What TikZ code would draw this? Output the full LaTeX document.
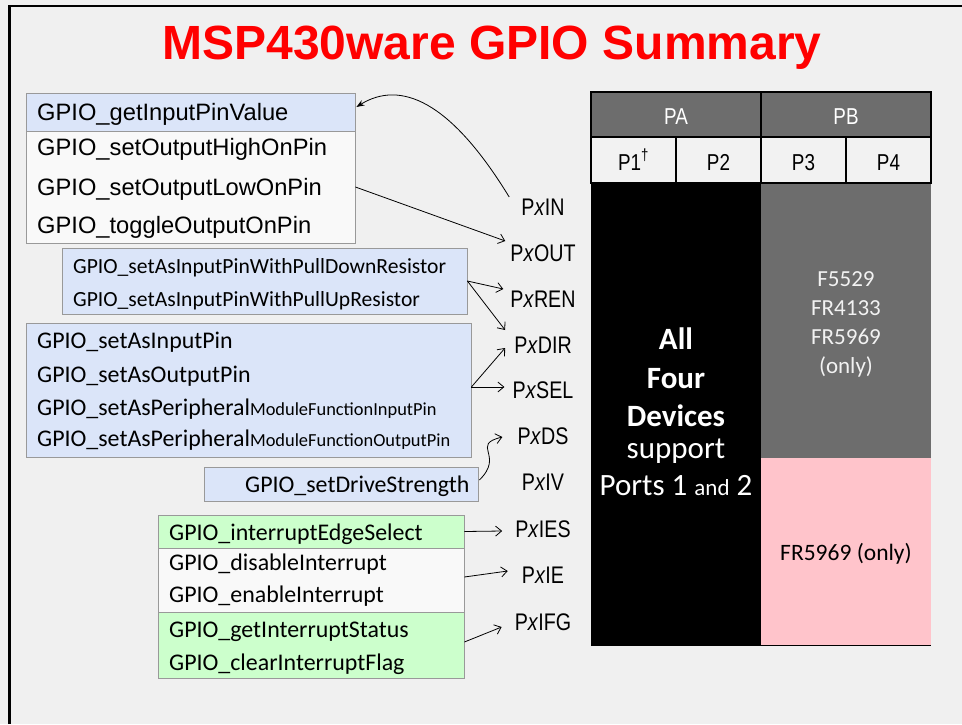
\documentclass[tikz,border=0pt]{standalone}
\usepackage{fontspec}
\setmainfont{Carlito}
\newfontfamily\arialf{Liberation Sans}
\newfontfamily\narrowf[FakeStretch=0.82]{Liberation Sans}
\usetikzlibrary{arrows.meta}
\definecolor{bgc}{HTML}{F0F0F0}
\definecolor{blueF}{HTML}{DBE5F9}
\definecolor{whiteF}{HTML}{F9F9F9}
\definecolor{greenF}{HTML}{CCFFCC}
\definecolor{boxline}{HTML}{999999}
\definecolor{darkG}{HTML}{6D6D6D}
\definecolor{rowG}{HTML}{F2F2F2}
\definecolor{pinkF}{HTML}{FFC4CB}
\begin{document}
\begin{tikzpicture}[x=1pt,y=-1pt,
  box/.style={draw=boxline, line width=0.8pt, inner sep=0pt},
  txt/.style={inner sep=0pt, anchor=base west, font=\fontsize{23.9}{28}\selectfont},
  stxt/.style={inner sep=0pt, anchor=base west, font=\fontsize{21.6}{26}\selectfont},
  atxt/.style={inner sep=0pt, anchor=base west, font=\arialf\fontsize{23.7}{28}\selectfont},
  lbl/.style={inner sep=0pt, anchor=base, font=\narrowf\fontsize{24}{28}\selectfont},
  ctxt/.style={inner sep=0pt, anchor=base, font=\narrowf\fontsize{23}{26}\selectfont},
  btxt/.style={inner sep=0pt, anchor=base, text=white, font=\fontsize{31}{36}\selectfont},
  gtxt/.style={inner sep=0pt, anchor=base, text=rowG, font=\fontsize{23}{28}\selectfont},
  arr/.style={line width=0.8pt, -{Straight Barb[length=6pt,width=10pt]}},
  cell/.style={draw=black, line width=1.2pt, inner sep=0pt},
  area/.style={inner sep=0pt, draw=none},
  frame/.style={line width=2.5pt, draw=black}
]
\useasboundingbox (0,0) rectangle (962,724);
\fill[bgc] (0,0) rectangle (962,724);
\draw[frame] (9.5,724) -- (9.5,6) -- (962,6);

% title
\node[inner sep=0pt, anchor=base, text=red, font=\arialf\bfseries\fontsize{48}{56}\selectfont] (title) at (492,59) {MSP430ware GPIO Summary};

% box 1
\node[box, fill=blueF, minimum width=329pt, minimum height=38pt] (b1a) at (190.5,112) {};
\node[box, fill=whiteF, minimum width=329pt, minimum height=112pt] (b1b) at (190.5,187) {};
\node[atxt] (t11) at (37,120) {GPIO\_getInputPinValue};
\node[atxt] (t12) at (37,155) {GPIO\_setOutputHighOnPin};
\node[atxt] (t13) at (37,195) {GPIO\_setOutputLowOnPin};
\node[atxt] (t14) at (37,233) {GPIO\_toggleOutputOnPin};

% box 2
\node[box, fill=blueF, minimum width=405pt, minimum height=66pt] (b2) at (264.5,281) {};
\node[stxt] (t21) at (73,273) {GPIO\_setAsInputPinWithPullDownResistor};
\node[stxt] (t22) at (73,306) {GPIO\_setAsInputPinWithPullUpResistor};

% box 3
\node[box, fill=blueF, minimum width=445pt, minimum height=134pt] (b3) at (248.5,390) {};
\node[txt] (t31) at (37,348) {GPIO\_setAsInputPin};
\node[txt] (t32) at (37,382) {GPIO\_setAsOutputPin};
\node[txt] (t33) at (37,415) {GPIO\_setAsPeripheral{\fontsize{18.4}{20}\selectfont ModuleFunctionInputPin}};
\node[txt] (t34) at (37,446) {GPIO\_setAsPeripheral{\fontsize{18.4}{20}\selectfont ModuleFunctionOutputPin}};

% box 4
\node[box, fill=blueF, minimum width=274pt, minimum height=34pt] (b4) at (341,484) {};
\node[txt] (t41) at (245,492) {GPIO\_setDriveStrength};

% box 5
\node[box, fill=greenF, minimum width=306pt, minimum height=33pt] (b5a) at (311,531.5) {};
\node[box, fill=whiteF, minimum width=306pt, minimum height=64pt] (b5b) at (311,580) {};
\node[box, fill=greenF, minimum width=306pt, minimum height=66pt] (b5c) at (311,645) {};
\node[txt] (t51) at (169,540) {GPIO\_interruptEdgeSelect};
\node[txt] (t52) at (169,570) {GPIO\_disableInterrupt};
\node[txt] (t53) at (169,602) {GPIO\_enableInterrupt};
\node[txt] (t54) at (169,637) {GPIO\_getInterruptStatus};
\node[txt] (t55) at (169,670) {GPIO\_clearInterruptFlag};

% register labels
\node[lbl] (pxin)  at (543,215) {P\textit{x}IN};
\node[lbl] (pxout) at (543,261) {P\textit{x}OUT};
\node[lbl] (pxren) at (543,307) {P\textit{x}REN};
\node[lbl] (pxdir) at (543,353) {P\textit{x}DIR};
\node[lbl] (pxsel) at (543,398) {P\textit{x}SEL};
\node[lbl] (pxds)  at (543,444) {P\textit{x}DS};
\node[lbl] (pxiv)  at (543,490) {P\textit{x}IV};
\node[lbl] (pxies) at (543,537) {P\textit{x}IES};
\node[lbl] (pxie)  at (543,583) {P\textit{x}IE};
\node[lbl] (pxifg) at (543,630) {P\textit{x}IFG};

% connectors
\draw[line width=0.8pt, -{Stealth[length=8pt,width=6pt]}] ([shift={(-12,-18)}]pxin.base west) .. controls (450,100) and (400,80) .. ([shift={(1,-5)}]b1a.east);
\draw[arr] (b1b.east) -- ([shift={(-5,-20)}]pxout.base west);
\draw[arr] (b2.east) -- ([shift={(-7,-18)}]pxren.base west);
\draw[arr] (b2.east) -- ([shift={(-9,-23)}]pxdir.base west);
\draw[arr] ([shift={(0,-3)}]b3.east) -- ([shift={(-9,-5)}]pxdir.base west);
\draw[arr] ([shift={(0,-3)}]b3.east) -- ([shift={(-8,-11)}]pxsel.base west);
\draw[arr] ([shift={(1,-4)}]b4.east) .. controls (505,455) and (470,445) .. ([shift={(-15,-7)}]pxds.base west);
\draw[arr] (b5a.east) -- ([shift={(-13,-6)}]pxies.base west);
\draw[arr] ([shift={(0,-3)}]b5b.east) -- ([shift={(-14,-12)}]pxie.base west);
\draw[arr] ([shift={(0,-3)}]b5c.east) -- ([shift={(-13,-3)}]pxifg.base west);

% table
\node[area, fill=black, minimum width=170pt, minimum height=462pt] (blk) at (676,414) {};
\node[area, fill=darkG, minimum width=170pt, minimum height=275pt] (gry) at (846,320.5) {};
\node[area, fill=pinkF, minimum width=170pt, minimum height=187pt] (pnk) at (846,551.5) {};
\draw[line width=1pt] (blk.south west) -- (pnk.south east);
\node[cell, fill=darkG, minimum width=170pt, minimum height=45pt] (pa) at (676,114.5) {};
\node[cell, fill=darkG, minimum width=170pt, minimum height=45pt] (pb) at (846,114.5) {};
\node[cell, fill=rowG, minimum width=85pt, minimum height=46pt] (p1) at (633.5,160) {};
\node[cell, fill=rowG, minimum width=85pt, minimum height=46pt] (p2) at (718.5,160) {};
\node[cell, fill=rowG, minimum width=85pt, minimum height=46pt] (p3) at (803.5,160) {};
\node[cell, fill=rowG, minimum width=85pt, minimum height=46pt] (p4) at (888.5,160) {};
\node[ctxt, text=white] (tpa) at (676,124) {PA};
\node[ctxt, text=white] (tpb) at (846,124) {PB};
\node[ctxt] (tp1) at (633.5,170) {P1\textsuperscript{†}};
\node[ctxt] (tp2) at (718.5,170) {P2};
\node[ctxt] (tp3) at (803.5,170) {P3};
\node[ctxt] (tp4) at (888.5,170) {P4};

\node[btxt, font=\bfseries\fontsize{31}{36}\selectfont] (tall) at (676,349) {All};
\node[btxt, font=\bfseries\fontsize{31}{36}\selectfont] (tfour) at (676,388) {Four};
\node[btxt, font=\bfseries\fontsize{31}{36}\selectfont] (tdev) at (676,426) {Devices};
\node[btxt] (tsup) at (676,458) {support};
\node[btxt] (tports) at (676,495) {Ports 1 {\fontsize{23}{28}\selectfont and} 2};

\node[gtxt] (g1) at (846,286) {F5529};
\node[gtxt] (g2) at (846,315) {FR4133};
\node[gtxt] (g3) at (846,344) {FR5969};
\node[gtxt] (g4) at (846,373) {(only)};
\node[inner sep=0pt, anchor=base, font=\fontsize{23.5}{28}\selectfont] (pk) at (846,560) {FR5969 (only)};
\end{tikzpicture}
\end{document}
